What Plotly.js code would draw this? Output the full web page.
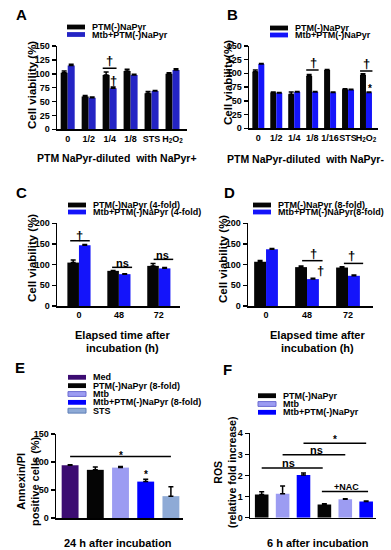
<!DOCTYPE html>
<html><head><meta charset="utf-8">
<script src="https://cdn.plot.ly/plotly-3.0.1.min.js"></script>
<style>html,body{margin:0;padding:0;background:#fff}#c{width:391px;height:550px}</style>
</head><body><div id="c"></div>
<script>
// ---------- DATA ----------
const catsA = ['0','1/2','1/4','1/8','STS','H2O2'];
const ticksA = ['0','1/2','1/4','1/8','STS','H<sub>2</sub>O<sub>2</sub>'];
const A_ptm = [102, 59, 98, 105, 65, 100];
const A_ptm_err = [3, 2, 5, 3, 3, 2];
const A_mtb = [115, 57, 74, 98, 69, 107];
const A_mtb_err = [2, 1, 2, 1, 1, 2];

const catsB = ['0','1/2','1/4','1/8','1/16','STS','H2O2'];
const ticksB = ['0','1/2','1/4','1/8','1/16','STS','H<sub>2</sub>O<sub>2</sub>'];
const B_ptm = [103, 65, 62, 95, 106, 71, 97];
const B_ptm_err = [3, 1, 4, 3, 1, 1, 2];
const B_mtb = [117, 64, 66, 66, 65, 70, 65];
const B_mtb_err = [1, 1, 1, 1, 1, 1, 1];

const catsCD = ['0','48','72'];
const C_ptm = [105, 85, 97];
const C_ptm_err = [6, 1, 6];
const C_mtb = [147, 77, 91];
const C_mtb_err = [2, 1, 2];
const D_ptm = [107, 94, 93];
const D_ptm_err = [3, 3, 2];
const D_mtb = [137, 65, 73];
const D_mtb_err = [2, 2, 2];

const catsE = ['Med','PTM(-)NaPyr (8-fold)','Mtb','Mtb+PTM(-)NaPyr (8-fold)','STS'];
const E_vals = [94, 86, 90, 65, 39];
const E_err = [1, 5, 2, 4, 17];

const catsF = ['PTM(-)NaPyr','Mtb','Mtb+PTM(-)NaPyr','PTM(-)NaPyr +NAC','Mtb +NAC','Mtb+PTM(-)NaPyr +NAC'];
const F_vals = [1.1, 1.13, 2.02, 0.62, 0.88, 0.77];
const F_err = [0.13, 0.37, 0.1, 0.04, 0.02, 0.02];

// ---------- STYLE ----------
const FONT = 'Liberation Sans, Arial, sans-serif';
const W = 391, H = 550;
const BLACK = '#050505';
const BLUE_A = '#2424c4', BLUE = '#1414fa';
const colorsE = ['#3c0c72', BLACK, '#9c9cf2', '#0000ff', '#8eaad6'];
const colorsF = [BLACK, '#9c9cf2', '#0000ff', BLACK, '#9c9cf2', '#0000ff'];
const fx = p => p / W, fy = p => 1 - p / H;

function bar(n, cats, vals, err, color, offset, width) {
  return {
    type: 'bar', x: cats, y: vals, xaxis: 'x' + n, yaxis: 'y' + n,
    offset: offset, width: width,
    marker: { color: color, line: { width: 0 } },
    error_y: { type: 'data', symmetric: false, array: err, arrayminus: err.map(() => 0),
               color: '#000', thickness: 1.5, width: 2.5 },
    showlegend: false, hoverinfo: 'skip'
  };
}
const data = [
  bar('', catsA, A_ptm, A_ptm_err, BLACK, -0.334, 0.334),
  bar('', catsA, A_mtb, A_mtb_err, BLUE_A, 0, 0.334),
  bar('2', catsB, B_ptm, B_ptm_err, BLACK, -0.334, 0.334),
  bar('2', catsB, B_mtb, B_mtb_err, BLUE, 0, 0.334),
  bar('3', catsCD, C_ptm, C_ptm_err, BLACK, -0.29, 0.29),
  bar('3', catsCD, C_mtb, C_mtb_err, BLUE, 0, 0.29),
  bar('4', catsCD, D_ptm, D_ptm_err, BLACK, -0.29, 0.29),
  bar('4', catsCD, D_mtb, D_mtb_err, BLUE, 0, 0.29),
  bar('5', catsE, E_vals, E_err, colorsE, -0.335, 0.67),
  bar('6', catsF, F_vals, F_err, colorsF, -0.325, 0.65)
];

function xax(px0, px1, range, anchor, cats, ticks, show) {
  return {
    domain: [fx(px0), fx(px1)], range: range, type: 'category', anchor: anchor,
    showline: true, linewidth: 1.5, linecolor: '#000', ticks: '', showgrid: false, zeroline: false,
    tickangle: 0, showticklabels: show, tickvals: cats, ticktext: ticks,
    tickfont: { family: FONT, size: 9, weight: 'bold', color: '#000' }, fixedrange: true
  };
}
function yax(ptop, pbot, range, dtick, anchor) {
  return {
    domain: [fy(pbot), fy(ptop)], range: range, dtick: dtick, anchor: anchor,
    showline: true, linewidth: 1.5, linecolor: '#000', ticks: 'outside', ticklen: 4,
    tickwidth: 1.5, tickcolor: '#000', showgrid: false, zeroline: false,
    tickfont: { family: FONT, size: 9, weight: 'bold', color: '#000' }, fixedrange: true
  };
}

const shapes = [], ann = [];
function sig(n, x0, x1, y) {
  shapes.push({ type: 'line', xref: 'x' + n, yref: 'y' + n, x0: x0, x1: x1, y0: y, y1: y,
                line: { color: '#000', width: 1.5 } });
}
function txt(n, x, y, t, size) {
  ann.push({ xref: 'x' + n, yref: 'y' + n, x: x, y: y, text: t, showarrow: false,
             xanchor: 'center', yanchor: 'middle',
             font: { family: FONT, size: size || 12, weight: 'bold', color: '#000' } });
}
function ptxt(x, y, t, size, opts) {
  ann.push(Object.assign({ xref: 'paper', yref: 'paper', x: fx(x), y: fy(y), text: t, showarrow: false,
    xanchor: 'center', yanchor: 'middle',
    font: { family: FONT, size: size, weight: 'bold', color: '#000' } }, opts || {}));
}
function leg(x0, yc, color, text, outline) {
  shapes.push({ type: 'rect', xref: 'paper', yref: 'paper', x0: fx(x0), x1: fx(x0 + 18),
    y0: fy(yc + 2.4), y1: fy(yc - 2.4), fillcolor: color,
    line: { color: outline || color, width: outline ? 1 : 0 } });
  ptxt(x0 + 23, yc, text, 9, { xanchor: 'left', yanchor: 'middle' });
}

// significance marks
sig('', 1.67, 2.33, 110); txt('', 2.0, 123, '†', 13); txt('', 2.2, 87, '†', 13);
sig('2', 2.67, 3.36, 106); txt('2', 3.05, 120, '†', 13);
sig('2', 5.67, 6.36, 104); txt('2', 6.05, 118, '†', 13); txt('2', 6.2, 72, '*', 10);
sig('3', -0.22, 0.27, 158); txt('3', 0.02, 171, '†', 13);
sig('3', 0.83, 1.33, 93.5); txt('3', 1.08, 105, 'ns', 11);
sig('3', 1.87, 2.36, 112.8); txt('3', 2.1, 124, 'ns', 11);
sig('4', 0.88, 1.38, 109.6); txt('4', 1.15, 127, '†', 13); txt('4', 1.33, 85, '†', 13);
sig('4', 1.9, 2.37, 103); txt('4', 2.09, 121, '†', 13);
sig('5', 0.0001, 4, 110); txt('5', 2, 112, '*', 10); txt('5', 3, 77, '*', 10);
sig('6', 0.0001, 2.92, 2.35); txt('6', 1.26, 2.6, 'ns', 11);
sig('6', 1, 4, 2.98); txt('6', 2.63, 3.2, 'ns', 11);
sig('6', 2, 5, 3.53); txt('6', 3.5, 3.72, '*', 10);
sig('6', 2.88, 5.09, 1.24); txt('6', 4.07, 1.47, '+NAC', 9);

// legends
leg(67, 27, BLACK, 'PTM(-)NaPyr'); leg(67, 34.5, BLUE_A, 'Mtb+PTM(-)NaPyr');
leg(270, 28, BLACK, 'PTM(-)NaPyr'); leg(270, 35, BLUE, 'Mtb+PTM(-)NaPyr');
leg(68, 205, BLACK, 'PTM(-)NaPyr (4-fold)'); leg(68, 212, BLUE, 'Mtb+PTM(-)NaPyr (4-fold)');
leg(253, 205, BLACK, 'PTM(-)NaPyr (8-fold)'); leg(253, 212, BLUE, 'Mtb+PTM(-)NaPyr(8-fold)');
const legE = ['Med','PTM(-)NaPyr (8-fold)','Mtb','Mtb+PTM(-)NaPyr (8-fold)','STS'];
const outE = [null, null, '#6a6ad0', null, '#5f7fb8'];
legE.forEach((t, i) => leg(68, 377.3 + 8.35 * i, colorsE[i], t, outE[i]));
const legF = ['PTM(-)NaPyr','Mtb','Mtb+PTM(-)NaPyr'];
legF.forEach((t, i) => leg(258, 395.7 + 8.3 * i, colorsF[i], t, i === 1 ? '#6a6ad0' : null));

// panel letters
ptxt(21, 15, 'A', 15); ptxt(232, 14, 'B', 15); ptxt(21, 193, 'C', 15);
ptxt(229, 193, 'D', 15); ptxt(20, 367, 'E', 15); ptxt(227, 369, 'F', 15);

// axis titles
const rot = { textangle: -90 };
ptxt(32, 85, 'Cell viability (%)', 11.5, rot);
ptxt(228, 83, 'Cell viability(%)', 11.5, rot);
ptxt(32, 258, 'Cell viability (%)', 11.5, rot);
ptxt(223, 259, 'Cell viability (%)', 11.5, rot);
ptxt(28, 481, 'Annexin/PI<br>positive cells (%)', 11, rot);
ptxt(225, 473, 'ROS<br>(relative fold increase)', 10.5, rot);
ptxt(117, 158, 'PTM NaPyr-diluted&nbsp; with NaPyr+', 10.5);
ptxt(305, 159, 'PTM NaPyr-diluted&nbsp; with NaPyr-', 10.5);
ptxt(122, 335, 'Elapsed time after', 11); ptxt(122, 347.5, 'incubation (h)', 11);
ptxt(317, 335, 'Elapsed time after', 11); ptxt(317, 347.5, 'incubation (h)', 11);
ptxt(118, 543, '24 h after incubation', 11);
ptxt(318, 543, '6 h after incubation', 11);

const layout = {
  width: W, height: H, margin: { l: 0, r: 0, t: 0, b: 0 },
  paper_bgcolor: '#fff', plot_bgcolor: 'rgba(0,0,0,0)', barmode: 'overlay',
  showlegend: false, font: { family: FONT, color: '#000' }, hovermode: false,
  xaxis: xax(57, 187, [-0.51, 5.69], 'y', catsA, ticksA, true),
  yaxis: yax(46, 129.3, [0, 150], 25, 'x'),
  xaxis2: xax(249, 378, [-0.52, 6.67], 'y2', catsB, ticksB, true),
  yaxis2: yax(45.8, 128.3, [0, 150], 25, 'x2'),
  xaxis3: xax(57, 180, [-0.55, 2.53], 'y3', catsCD, catsCD, true),
  yaxis3: yax(223.3, 306, [0, 200], 50, 'x3'),
  xaxis4: xax(248, 373, [-0.44, 2.61], 'y4', catsCD, catsCD, true),
  yaxis4: yax(223.3, 306, [0, 200], 50, 'x4'),
  xaxis5: xax(56, 183, [-0.56, 4.48], 'y5', catsE, catsE, false),
  yaxis5: yax(434, 518, [0, 150], 50, 'x5'),
  xaxis6: xax(250, 376, [-0.56, 5.47], 'y6', catsF, catsF, false),
  yaxis6: yax(433.3, 517.7, [0, 4], 1, 'x6'),
  shapes: shapes, annotations: ann
};
Plotly.newPlot('c', data, layout, { staticPlot: true, displayModeBar: false });
</script></body></html>
